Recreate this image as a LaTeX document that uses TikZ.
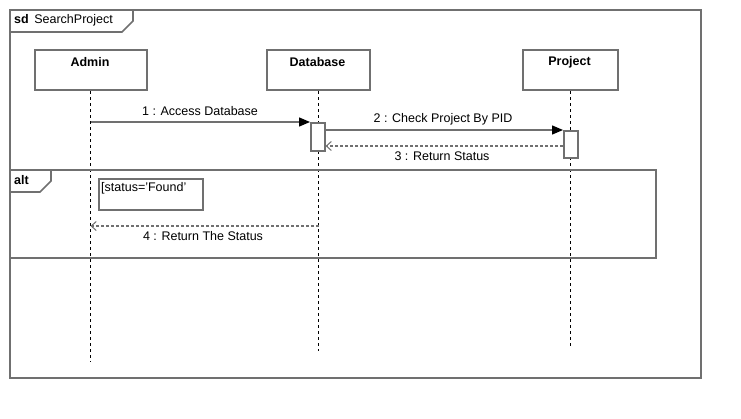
\documentclass[tikz,border=0pt]{standalone}
\usepackage{fontspec}
\setmainfont{Liberation Sans}
\usetikzlibrary{arrows.meta,calc}
\definecolor{framegray}{HTML}{707070}
\tikzset{
  frameline/.style={draw=framegray,line width=1.6pt},
  lifebox/.style={draw=framegray,line width=2pt,fill=white,minimum width=112pt,minimum height=40pt,inner sep=0pt,anchor=north west},
  headtext/.style={inner sep=0pt,font=\fontsize{12.5}{14}\selectfont\bfseries},
  actbox/.style={draw=framegray,line width=1.6pt,fill=white,minimum width=14pt,inner sep=0pt,anchor=north west},
  lifeline/.style={draw=black,line width=0.8pt,dash pattern=on 3pt off 3pt},
  syncmsg/.style={draw=framegray,line width=1.4pt,-{Triangle[length=11pt,width=9pt,black]}},
  retmsg/.style={draw=framegray,line width=1.2pt,dash pattern=on 3pt off 2pt,-{Straight Barb[length=5pt,width=9pt,line width=1pt]}},
  lbl/.style={inner sep=0pt,font=\fontsize{12.5}{14}\selectfont},
}
\begin{document}
\begin{tikzpicture}[x=1pt,y=-1pt,font=\fontsize{12.5}{14}\selectfont]
\useasboundingbox (0,0) rectangle (741,418);
\fill[white] (0,0) rectangle (741,418);
% outer sd frame
\draw[frameline] (10,10) rectangle (701,378);
\draw[frameline] (10,32) -- (122,32) -- (133,21) -- (133,10);
\node[lbl,anchor=west] (sdlabel) at (14,20.5) {\textbf{sd}\, SearchProject};
% lifeline heads
\node[lifebox] (admin) at (34,49) {};
\node[headtext] (admint) at (90,62.5) {Admin};
\node[lifebox,minimum width=103pt] (db) at (266,49) {};
\node[headtext] (dbt) at (317.5,62.5) {Database};
\node[lifebox,minimum width=95pt] (proj) at (522,49) {};
\node[headtext] (projt) at (569.5,62.5) {Project};
% lifeline ends
\coordinate (adminend) at (90.5,362);
\coordinate (dbend) at (318.5,351);
\coordinate (projend) at (570,346);
\draw[lifeline] (admin.south -| adminend) -- (adminend);
\draw[lifeline] (db.south -| dbend) -- (dbend);
\draw[lifeline] (proj.south -| projend) -- (projend);
% alt frame
\draw[frameline] (10,170) rectangle (656,258);
\draw[frameline] (10,192) -- (40,192) -- (51,181) -- (51,170);
\node[lbl,anchor=west] (altlabel) at (14,180) {\textbf{alt}};
\node[draw=framegray,line width=2pt,minimum width=104pt,minimum height=31pt,anchor=north west,inner sep=0pt] (guard) at (98,178) {};
\node[lbl,anchor=west] (guardtext) at (101,188) {[status='Found'};
% activations
\node[actbox,minimum height=28pt] (dbact) at (310,122) {};
\node[actbox,minimum height=27pt] (projact) at (563,130) {};
% messages
\coordinate (m1) at (90.5,122);
\draw[syncmsg] (m1) -- (dbact.north west);
\node[lbl] (m1l) at (200,111) {1 : Access Database};
\draw[syncmsg] (dbact.east |- projact.north) -- (projact.north west);
\node[lbl] (m2l) at (443,119) {2 : Check Project By PID};
\coordinate (m3) at (0,146);
\draw[retmsg] (projact.west |- m3) -- (dbact.east |- m3);
\node[lbl] (m3l) at (442,156) {3 : Return Status};
\coordinate (m4a) at (318.5,226);
\coordinate (m4b) at (90.5,226);
\draw[retmsg] (m4a) -- (m4b);
\node[lbl] (m4l) at (203,236) {4 : Return The Status};
\end{tikzpicture}
\end{document}
